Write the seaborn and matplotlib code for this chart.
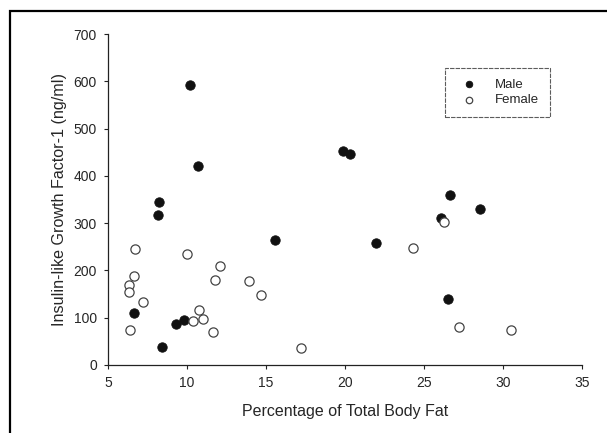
import matplotlib
matplotlib.use("Agg")
import matplotlib.pyplot as plt
import seaborn as sns
import pandas as pd
from matplotlib.patches import Rectangle

male_fat = [10.19, 10.72, 19.85, 20.32, 8.23, 8.18, 15.57, 6.67, 8.44, 9.30, 9.81,
            26.65, 28.56, 26.08, 21.94, 26.54]
male_igf = [593, 421, 453, 446, 344, 318, 264, 109, 39, 87, 95,
            359, 329, 310, 257, 140]
female_fat = [6.69, 6.62, 6.33, 6.33, 7.24, 6.39, 10.02, 12.09, 11.75, 10.74, 10.40,
              10.99, 11.62, 13.94, 14.68, 17.22, 26.27, 24.30, 27.22, 30.49]
female_igf = [245, 188, 170, 154, 133, 73, 235, 209, 180, 116, 94,
              97, 70, 178, 149, 37, 303, 248, 80, 73]
x_ticks = [5, 10, 15, 20, 25, 30, 35]
y_ticks = [0, 100, 200, 300, 400, 500, 600, 700]

male = pd.DataFrame({"fat": male_fat, "igf": male_igf})
female = pd.DataFrame({"fat": female_fat, "igf": female_igf})

sns.set_style("white")
plt.rcParams["font.family"] = ["Liberation Sans", "DejaVu Sans"]

fig = plt.figure(figsize=(6.07, 4.33), dpi=100)
ax = fig.add_axes([108 / 607, 1 - 365 / 433, (582 - 108) / 607, (365 - 34) / 433])

sns.scatterplot(data=male, x="fat", y="igf", ax=ax, s=46, color="#111111",
                edgecolor="#111111", linewidth=0.6, label="Male", zorder=3)
sns.scatterplot(data=female, x="fat", y="igf", ax=ax, s=44, facecolor="white",
                edgecolor="#444444", linewidth=0.9, label="Female", zorder=3)

ax.set_xlim(5, 35)
ax.set_ylim(0, 700)
ax.set_xticks(x_ticks)
ax.set_yticks(y_ticks)
ax.tick_params(axis="both", direction="out", length=3, width=0.8, color="#222222",
               labelsize=10, pad=5, bottom=True, left=True)
for s in ["top", "right"]:
    ax.spines[s].set_visible(False)
for s in ["left", "bottom"]:
    ax.spines[s].set_color("#222222")
    ax.spines[s].set_linewidth(0.9)
    ax.spines[s].set_linestyle((0, (6, 1)))

ax.set_xlabel("Percentage of Total Body Fat", fontsize=11.5, labelpad=10)
ax.set_ylabel("Insulin-like Growth Factor-1 (ng/ml)", fontsize=11.6, labelpad=5)

leg = ax.legend(loc="upper left", bbox_to_anchor=((445 - 108) / 474, 1 - (68 - 34) / 331),
                fontsize=9.5, frameon=True, fancybox=False, handletextpad=1.0,
                borderpad=0.8, labelspacing=0.25, borderaxespad=0, markerscale=0.7)
frame = leg.get_frame()
frame.set_edgecolor("#333333")
frame.set_linewidth(0.8)
frame.set_linestyle((0, (4, 1)))

fig.patches.append(Rectangle((9.5 / 607, -0.1), 1.2, (433 - 11) / 433 + 0.1,
                             transform=fig.transFigure, fill=False,
                             edgecolor="black", linewidth=1.6))

fig.savefig("out.png", dpi=100)
